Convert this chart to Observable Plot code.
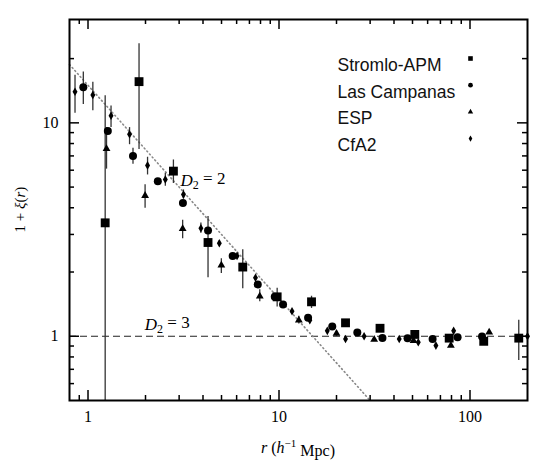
<!DOCTYPE html>
<html><head><meta charset="utf-8">
<script src="https://cdn.jsdelivr.net/npm/d3@7"></script>
<script src="https://cdn.jsdelivr.net/npm/@observablehq/plot@0.6"></script>
<style>body{margin:0;background:#fff;} #chart{width:550px;height:464px;}</style>
</head><body><div id="chart"></div>
<script>
// ---- data ----
const surveys = ["Stromlo-APM", "Las Campanas", "ESP", "CfA2"];

const stromloR  = [1.23, 1.85, 2.80, 4.25, 6.46, 9.78, 14.8, 22.3, 33.8, 51.4, 77.8, 118, 180];
const stromloV  = [3.4, 15.6, 5.94, 2.75, 2.11, 1.53, 1.45, 1.156, 1.09, 1.02, 0.98, 0.947, 0.98];
const stromloLo = [0.5, 7.5, 5.2, 1.88, 1.67, 1.37, 1.35, null, null, null, null, null, 0.77];
const stromloHi = [13.4, 23.5, 6.7, 3.64, 2.54, 1.68, 1.54, null, null, null, null, null, 1.19];

const lcR  = [0.945, 1.27, 1.72, 2.32, 3.14, 4.25, 5.72, 7.74, 9.5, 10.5, 14.2, 19.0, 25.7, 34.8, 47.1, 63.7, 86.1, 115.6];
const lcV  = [14.7, 9.17, 6.99, 5.33, 4.21, 3.13, 2.38, 1.75, 1.53, 1.41, 1.22, 1.11, 1.04, 0.982, 0.979, 0.971, 0.989, 0.997];
const lcLo = [12.2, null, 6.4, null, null, null, null, null, null, null, null, null, null, null, null, null, null, null];
const lcHi = [17.3, null, 7.6, null, null, null, null, null, null, null, null, null, null, null, null, null, null, null];

const espR  = [1.25, 1.99, 3.13, 4.99, 7.93, 12.7, 20.0, 31.5, 50.6, 79.4, 126];
const espV  = [7.57, 4.56, 3.19, 2.15, 1.54, 1.19, 1.03, 0.965, 0.954, 0.904, 1.044];
const espLo = [6.07, 3.98, 2.86, 1.97, 1.45, 1.14, 1.0, null, null, null, null];
const espHi = [9.5, 5.13, 3.5, 2.31, 1.65, 1.24, 1.06, null, null, null, null];

const cfaR  = [0.855, 1.06, 1.32, 1.65, 2.05, 2.54, 3.16, 3.90, 4.87, 6.03, 7.53, 11.7, 14.5, 17.9, 22.3, 27.9, 42.6, 53.6, 66.3, 82.1, 200];
const cfaV  = [14.0, 13.5, 10.8, 8.85, 6.32, 5.43, 4.61, 3.21, 2.73, 2.38, 1.88, 1.31, 1.19, 1.06, 0.971, 1.0, 0.971, 0.937, 0.904, 1.06, 1.0];
const cfaLo = [11.1, 11.4, 9.5, 7.9, 5.7, 5.04, 4.4, 3.04, 2.65, null, null, null, null, null, null, null, null, null, null, null, null];
const cfaHi = [16.7, 15.5, 12.0, 9.5, 6.9, 5.8, 4.85, 3.39, 2.8, null, null, null, null, null, null, null, null, null, null, null, null];

// reference lines
const d2LineR = [0.8, 30];      // D2 = 2 (slope -1)
const d2LineV = [18.75, 0.5];
const d3Level = [1];            // D2 = 3
const annotText = ["D2 = 2", "D2 = 3"];
const annotR = [4.0, 2.6];
const annotV = [5.38, 1.14];

// ticks
const xMajor = [1, 10, 100];
const xMinor = [0.9, 2, 3, 4, 5, 6, 7, 8, 9, 20, 30, 40, 50, 60, 70, 80, 90];
const yMajor = [1, 10];
const yMinor = [0.6, 0.7, 0.8, 0.9, 2, 3, 4, 5, 6, 7, 8, 9, 20];

// ---- build table ----
function rows(name, R, V, Lo, Hi) {
  return R.map((r, i) => ({survey: name, r, v: V[i], lo: Lo[i], hi: Hi[i]}));
}
const table = [
  ...rows(surveys[0], stromloR, stromloV, stromloLo, stromloHi),
  ...rows(surveys[1], lcR, lcV, lcLo, lcHi),
  ...rows(surveys[2], espR, espV, espLo, espHi),
  ...rows(surveys[3], cfaR, cfaV, cfaLo, cfaHi)
];
const refLine = d2LineR.map((r, i) => ({r, v: d2LineV[i]}));
const annots = annotText.map((t, i) => ({t, r: annotR[i], v: annotV[i]}));

// ---- styles ----
const symStyle = {
  "Stromlo-APM": {symbol: "square", r: 5.0},
  "Las Campanas": {symbol: "circle", r: 4.0},
  "ESP": {symbol: "triangle", r: 2.9},
  "CfA2": {symbol: "diamond", r: 2.6}
};
const legSym = {"Stromlo-APM": 2.6, "Las Campanas": 2.4, "ESP": 2.0, "CfA2": 1.9};

const W = 550, H = 464, mL = 69, mR = 23, mT = 19, mB = 64;
const fw = W - mL - mR, fh = H - mT - mB;
const majorLen = 10, minorLen = 5;

const tickMarks = [
  Plot.ruleX(xMajor, {x: d => d, insetTop: fh - majorLen, stroke: "#000", strokeWidth: 1.5}),
  Plot.ruleX(xMajor, {x: d => d, insetBottom: fh - majorLen, stroke: "#000", strokeWidth: 1.5}),
  Plot.ruleX(xMinor, {x: d => d, insetTop: fh - minorLen, stroke: "#000", strokeWidth: 1.5}),
  Plot.ruleX(xMinor, {x: d => d, insetBottom: fh - minorLen, stroke: "#000", strokeWidth: 1.5}),
  Plot.ruleY(yMajor, {y: d => d, insetRight: fw - majorLen, stroke: "#000", strokeWidth: 1.5}),
  Plot.ruleY(yMajor, {y: d => d, insetLeft: fw - majorLen, stroke: "#000", strokeWidth: 1.5}),
  Plot.ruleY(yMinor, {y: d => d, insetRight: fw - minorLen, stroke: "#000", strokeWidth: 1.5}),
  Plot.ruleY(yMinor, {y: d => d, insetLeft: fw - minorLen, stroke: "#000", strokeWidth: 1.5})
];

const legendMarks = [];
surveys.forEach((s, i) => {
  legendMarks.push(Plot.text([s], {frameAnchor: "top-left", text: d => d, dx: 268, dy: 39 + i * 26.7,
    textAnchor: "start", fontFamily: "'Liberation Sans', Arial, sans-serif", fontSize: 17.5, fill: "#111"}));
  legendMarks.push(Plot.dot([s], {frameAnchor: "top-left", dx: 401, dy: 39 + i * 26.7,
    symbol: symStyle[s].symbol, r: legSym[s], fill: "#000", stroke: "none"}));
});

const plot = Plot.plot({
  width: W, height: H,
  marginLeft: mL, marginRight: mR, marginTop: mT, marginBottom: mB,
  x: {type: "log", domain: [0.8, 200]},
  y: {type: "log", domain: [0.5, 30.5]},
  style: {fontFamily: "'Liberation Serif', 'DejaVu Serif', serif", fontSize: "16px", background: "#fff", color: "#000"},
  marks: [
    Plot.ruleY(d3Level, {y: d => d, stroke: "#222", strokeWidth: 1.2, strokeDasharray: "7,4"}),
    Plot.line(refLine, {x: "r", y: "v", stroke: "#888", strokeWidth: 1.6, strokeDasharray: "1,3", strokeLinecap: "round"}),
    Plot.ruleX(table.filter(d => d.lo != null), {x: "r", y1: "lo", y2: "hi", stroke: "#333", strokeWidth: 1.3}),
    ...surveys.map(s => Plot.dot(table.filter(d => d.survey === s), {
      x: "r", y: "v", symbol: symStyle[s].symbol, r: symStyle[s].r, fill: "#000", stroke: "none"})),
    Plot.text(annots, {x: "r", y: "v", text: "t", fontStyle: "normal", fontSize: 17, textAnchor: "middle", fill: "#000"}),
    ...legendMarks,
    ...tickMarks,
    Plot.axisX({ticks: xMajor, tickSize: 0, tickPadding: 10, label: null, tickFormat: d => String(d), fontSize: 16}),
    Plot.axisY({ticks: yMajor, tickSize: 0, tickPadding: 11, label: null, tickFormat: d => String(d), fontSize: 16}),
    Plot.frame({stroke: "#000", strokeWidth: 2})
  ]
});

// math-style annotations
d3.select(plot).selectAll("text").filter(function() { return /^D2 = /.test(this.textContent); })
  .each(function() {
    const rest = this.textContent.slice(2);
    const s = d3.select(this);
    s.text(null);
    s.append("tspan").attr("font-style", "italic").text("D");
    s.append("tspan").attr("font-size", "12px").attr("dy", "0.3em").text("2");
    s.append("tspan").attr("dy", "-0.3em").text(rest);
  });

const svg = d3.select(plot);
const xl = svg.append("text").attr("x", mL + fw / 2).attr("y", 453).attr("text-anchor", "middle")
  .attr("font-size", "16px").attr("fill", "#000");
xl.append("tspan").attr("font-style", "italic").text("r");
xl.append("tspan").text(" (");
xl.append("tspan").attr("font-style", "italic").text("h");
xl.append("tspan").attr("font-size", "11px").attr("dy", "-0.55em").text("−1");
xl.append("tspan").attr("dy", "0.55em").text(" Mpc)");

const yl = svg.append("text").attr("transform", `translate(25,${mT + fh / 2}) rotate(-90)`)
  .attr("text-anchor", "middle").attr("font-size", "15px").attr("fill", "#000");
yl.append("tspan").text("1 + ");
yl.append("tspan").attr("font-style", "italic").text("ξ");
yl.append("tspan").text("(");
yl.append("tspan").attr("font-style", "italic").text("r");
yl.append("tspan").text(")");

document.getElementById("chart").appendChild(plot);
</script>
</body></html>
